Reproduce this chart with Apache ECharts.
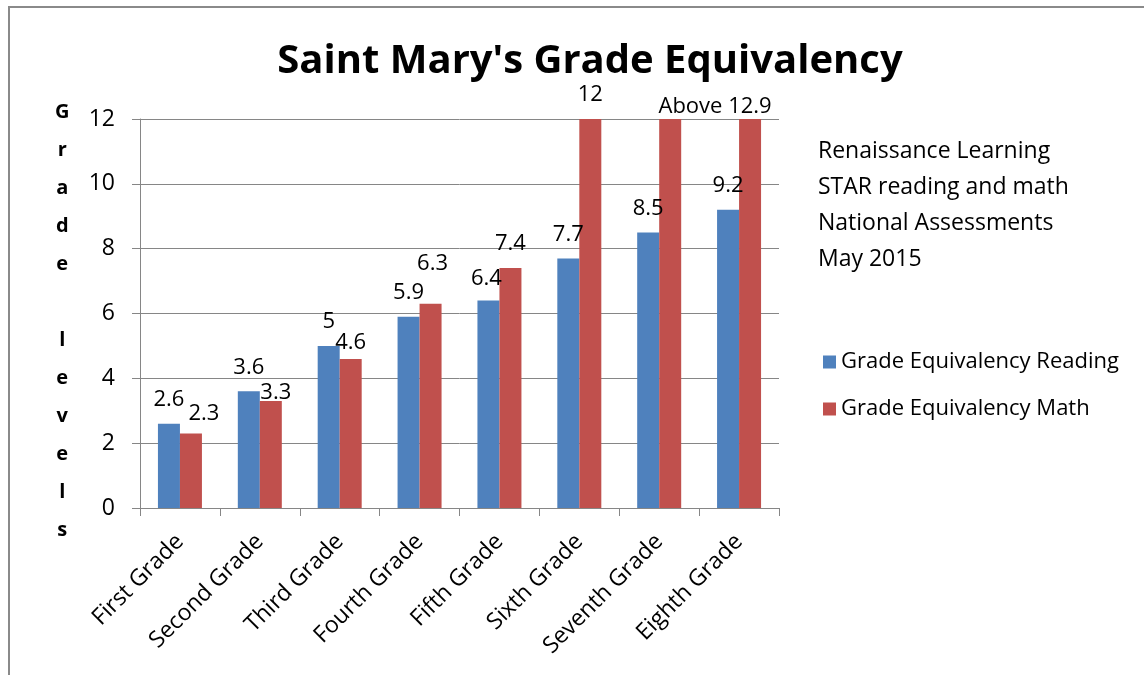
<!DOCTYPE html>
<html>
<head>
<meta charset="utf-8">
<script src="https://cdn.jsdelivr.net/npm/echarts@6/dist/echarts.min.js"></script>
<style>
html,body{margin:0;padding:0;background:#fff;}
#chart{width:1144px;height:675px;}
</style>
</head>
<body>
<div id="chart"></div>
<script>
const categories = ["First Grade","Second Grade","Third Grade","Fourth Grade","Fifth Grade","Sixth Grade","Seventh Grade","Eighth Grade"];
const readingValues = [2.6, 3.6, 5, 5.9, 6.4, 7.7, 8.5, 9.2];
const mathValues = [2.3, 3.3, 4.6, 6.3, 7.4, 12, 12, 12];
const mathLabelTexts = [null, null, null, null, null, null, "", "Above 12.9"];
const yTicks = [0, 2, 4, 6, 8, 10, 12];
const seriesNames = ["Grade Equivalency Reading", "Grade Equivalency Math"];
const noteLines = ["Renaissance Learning", "STAR reading and math", "National Assessments", "May 2015"];
const yAxisTitle = "Grade levels";

// label nudges (style only)
const readingNudge = [[0,0],[0,0],[0,0],[0,0],[-2,2],[0,0],[0,0],[0,0]];
const mathNudge = [[13,4],[5,16],[0,8],[2,-16],[0,0],[0,0],[0,0],[-35,12]];

const FONT = "'Open Sans', 'Noto Sans', sans-serif";
const chart = echarts.init(document.getElementById('chart'), null, {renderer:'canvas'});

function buildData(values, nudges, texts) {
  return values.map((v, i) => {
    const item = { value: v, label: { offset: nudges[i] } };
    if (texts && texts[i] !== null) {
      if (texts[i] === "") item.label.show = false;
      else item.label.formatter = texts[i];
    }
    return item;
  });
}

const labelStyle = { show: true, position: 'top', distance: 13, fontFamily: FONT, fontSize: 22, color: '#000' };

chart.setOption({
  backgroundColor: '#fff',
  animation: false,
  title: [
    { text: "Saint Mary's Grade Equivalency", left: 585, textAlign: 'center', top: 37,
      textStyle: { fontFamily: FONT, fontWeight: 'bold', fontSize: 40, color: '#000' } },
    { text: noteLines.join('\n'), left: 813, top: 128,
      textStyle: { fontFamily: FONT, fontWeight: 'normal', fontSize: 23, lineHeight: 36, color: '#000' } }
  ],
  legend: {
    orient: 'vertical', left: 818, top: 346, itemWidth: 13, itemHeight: 13, itemGap: 25,
    icon: 'rect',
    textStyle: { fontFamily: FONT, fontSize: 22, color: '#000' },
    data: seriesNames
  },
  grid: { left: 140, right: 365, top: 119, bottom: 167, containLabel: false },
  xAxis: {
    type: 'category', data: categories,
    axisLine: { show: true, lineStyle: { color: '#868686', width: 1 } },
    axisTick: { show: true, alignWithLabel: false, length: 8, lineStyle: { color: '#868686' } },
    axisLabel: { rotate: 45, margin: 30, fontFamily: FONT, fontSize: 23, color: '#000', interval: 0 }
  },
  yAxis: {
    type: 'value', min: 0, max: 12, interval: 2,
    axisLine: { show: true, lineStyle: { color: '#868686', width: 1 } },
    axisTick: { show: true, length: 8, inside: false, lineStyle: { color: '#868686' } },
    axisLabel: { margin: 25, fontFamily: FONT, fontSize: 23, color: '#000',
      formatter: v => yTicks.includes(v) ? String(v) : '' },
    splitLine: { show: true, lineStyle: { color: '#868686', width: 1 } }
  },
  series: [
    { name: seriesNames[0], type: 'bar', barWidth: 22, barGap: '0%',
      itemStyle: { color: '#4F81BD' }, label: labelStyle,
      data: buildData(readingValues, readingNudge, null) },
    { name: seriesNames[1], type: 'bar', barWidth: 22, barGap: '0%',
      itemStyle: { color: '#C0504D' }, label: labelStyle,
      data: buildData(mathValues, mathNudge, mathLabelTexts) }
  ],
  graphic: [
    { type: 'text', left: 55, top: 93, silent: true,
      style: { text: yAxisTitle.split('').join('\n').replace(' ', ''), fontFamily: FONT, fontWeight: 'bold',
        fontSize: 20, lineHeight: 38, fill: '#000', textAlign: 'center' } },
    { type: 'rect', shape: { x: 9, y: 7, width: 1300, height: 800 }, z: 100,
      style: { fill: null, stroke: '#8a8a8a', lineWidth: 2 }, silent: true }
  ]
});
</script>
</body>
</html>
